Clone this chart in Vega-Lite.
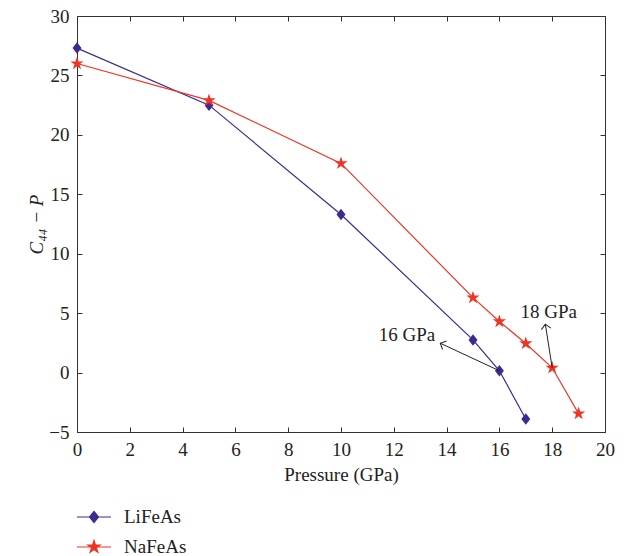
{
  "$schema": "https://vega.github.io/schema/vega-lite/v6.json",
  "width": 528,
  "height": 416,
  "autosize": "none",
  "padding": {"left": 77, "top": 16, "right": 30, "bottom": 124},
  "background": "white",
  "config": {
    "view": {"stroke": null},
    "font": "Liberation Serif",
    "axis": {
      "domainColor": "#333333",
      "tickColor": "#333333",
      "tickSize": -5,
      "labelFlush": false,
      "labelOverlap": false,
      "labelFont": "Liberation Serif",
      "labelFontSize": 19,
      "labelColor": "#222222",
      "titleFont": "Liberation Serif",
      "titleFontSize": 19,
      "titleFontWeight": "normal",
      "titleColor": "#222222",
      "grid": false
    }
  },
  "datasets": {
    "series": [
      {"P": 0, "C": 27.3, "s": "LiFeAs"},
      {"P": 5, "C": 22.5, "s": "LiFeAs"},
      {"P": 10, "C": 13.3, "s": "LiFeAs"},
      {"P": 15, "C": 2.75, "s": "LiFeAs"},
      {"P": 16, "C": 0.15, "s": "LiFeAs"},
      {"P": 17, "C": -3.9, "s": "LiFeAs"},
      {"P": 0, "C": 26.0, "s": "NaFeAs"},
      {"P": 5, "C": 22.9, "s": "NaFeAs"},
      {"P": 10, "C": 17.6, "s": "NaFeAs"},
      {"P": 15, "C": 6.3, "s": "NaFeAs"},
      {"P": 16, "C": 4.3, "s": "NaFeAs"},
      {"P": 17, "C": 2.45, "s": "NaFeAs"},
      {"P": 18, "C": 0.4, "s": "NaFeAs"},
      {"P": 19, "C": -3.45, "s": "NaFeAs"}
    ],
    "arrows": [
      {"x": 16, "y": 0.15, "x2": 13.76, "y2": 2.47, "label": "16 GPa", "lx": 12.5, "ly": 3.15},
      {"x": 18, "y": 0.4, "x2": 17.74, "y2": 4.07, "label": "18 GPa", "lx": 17.87, "ly": 5.1}
    ]
  },
  "layer": [
    {
      "mark": {"type": "rule", "strokeDash": [7, 5], "color": "#111111", "strokeWidth": 1},
      "encoding": {"y": {"datum": 0, "type": "quantitative", "axis": null}}
    },
    {
      "data": {"name": "series"},
      "mark": {"type": "line", "strokeWidth": 1.2},
      "encoding": {
        "x": {
          "field": "P", "type": "quantitative",
          "scale": {"domain": [0, 20], "nice": false, "zero": false},
          "axis": {"orient": "bottom", "values": [0, 2, 4, 6, 8, 10, 12, 14, 16, 18, 20], "labelPadding": 13, "title": "Pressure (GPa)", "titlePadding": 6}
        },
        "y": {
          "field": "C", "type": "quantitative",
          "scale": {"domain": [-5, 30], "nice": false, "zero": false},
          "axis": {"orient": "left", "values": [-5, 0, 5, 10, 15, 20, 25, 30], "labelPadding": 13, "labelExpr": "datum.value < 0 ? '−' + abs(datum.value) : datum.label", "title": "C₄₄ − P", "titleFontStyle": "italic", "titlePadding": 2}
        },
        "color": {
          "field": "s", "type": "nominal",
          "scale": {"domain": ["LiFeAs", "NaFeAs"], "range": ["#3c2a90", "#ee3424"]},
          "legend": {
            "orient": "none", "legendX": 6, "legendY": 490, "title": null,
            "padding": 0, "symbolSize": 400, "labelOffset": 19, "rowPadding": 9,
            "labelFont": "Liberation Serif", "labelFontSize": 19, "labelColor": "#222222",
            "encode": {
              "symbols": {
                "update": {
                  "shape": {"signal": "datum.value == 'LiFeAs' ? 'M-1.7,0L1.7,0M0,-0.55L0.45,0L0,0.55L-0.45,0Z' : 'M-1.7,0L1.7,0M0,-0.65L0.146,-0.2L0.618,-0.2L0.236,0.077L0.382,0.526L0,0.248L-0.382,0.526L-0.236,0.077L-0.618,-0.2L-0.146,-0.2Z'"},
                  "fill": {"scale": "color", "field": "value"},
                  "stroke": {"scale": "color", "field": "value"},
                  "strokeWidth": {"value": 1.2},
                  "opacity": {"value": 1}
                }
              }
            }
          }
        }
      }
    },
    {
      "data": {"name": "series"},
      "transform": [{"filter": "datum.s == 'LiFeAs'"}],
      "mark": {"type": "point", "filled": true, "opacity": 1, "strokeWidth": 0, "color": "#3c2a90", "shape": "M0,-1.15L0.9,0L0,1.15L-0.9,0Z", "size": 100},
      "encoding": {
        "x": {"field": "P", "type": "quantitative", "axis": {"orient": "top", "labels": false, "title": null, "values": [0, 2, 4, 6, 8, 10, 12, 14, 16, 18, 20]}},
        "y": {"field": "C", "type": "quantitative", "axis": {"orient": "right", "labels": false, "title": null, "values": [-5, 0, 5, 10, 15, 20, 25, 30]}}
      }
    },
    {
      "data": {"name": "series"},
      "transform": [{"filter": "datum.s == 'NaFeAs'"}],
      "mark": {"type": "point", "filled": true, "opacity": 1, "strokeWidth": 0, "color": "#ee3424", "shape": "M0,-1.4L0.315,-0.433L1.331,-0.433L0.508,0.165L0.823,1.133L0,0.535L-0.823,1.133L-0.508,0.165L-1.331,-0.433L-0.315,-0.433Z", "size": 100},
      "encoding": {
        "x": {"field": "P", "type": "quantitative", "axis": null},
        "y": {"field": "C", "type": "quantitative", "axis": null}
      }
    },
    {
      "data": {"name": "arrows"},
      "mark": {"type": "rule", "color": "#222222", "strokeWidth": 1},
      "encoding": {
        "x": {"field": "x", "type": "quantitative", "axis": null},
        "y": {"field": "y", "type": "quantitative", "axis": null},
        "x2": {"field": "x2"},
        "y2": {"field": "y2"}
      }
    },
    {
      "data": {"name": "arrows"},
      "transform": [{"filter": "datum.label == '16 GPa'"}],
      "mark": {"type": "point", "shape": "M-1,1L0,0L1,1", "filled": false, "stroke": "#222222", "strokeWidth": 1, "opacity": 1, "angle": 295, "size": 90},
      "encoding": {
        "x": {"field": "x2", "type": "quantitative", "axis": null},
        "y": {"field": "y2", "type": "quantitative", "axis": null}
      }
    },
    {
      "data": {"name": "arrows"},
      "transform": [{"filter": "datum.label == '18 GPa'"}],
      "mark": {"type": "point", "shape": "M-1,1L0,0L1,1", "filled": false, "stroke": "#222222", "strokeWidth": 1, "opacity": 1, "angle": 351, "size": 90},
      "encoding": {
        "x": {"field": "x2", "type": "quantitative", "axis": null},
        "y": {"field": "y2", "type": "quantitative", "axis": null}
      }
    },
    {
      "data": {"name": "arrows"},
      "mark": {"type": "text", "font": "Liberation Serif", "fontSize": 19, "color": "#222222"},
      "encoding": {
        "x": {"field": "lx", "type": "quantitative", "axis": null},
        "y": {"field": "ly", "type": "quantitative", "axis": null},
        "text": {"field": "label"}
      }
    }
  ],
  "resolve": {"axis": {"x": "independent", "y": "independent"}}
}
